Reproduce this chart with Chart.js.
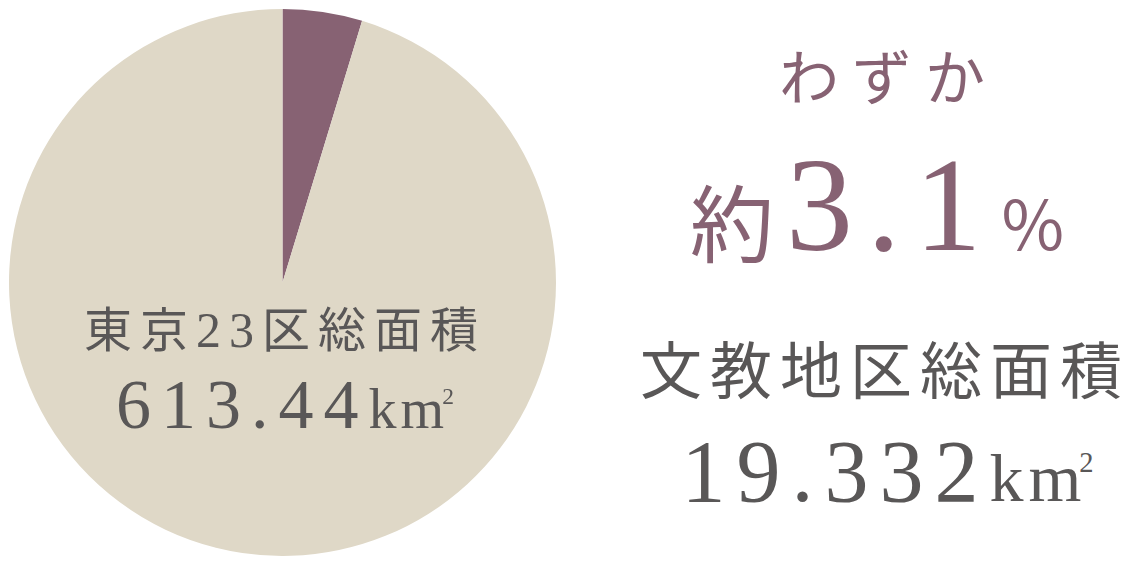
<!DOCTYPE html>
<html lang="ja">
<head>
<meta charset="utf-8">
<script src="https://cdn.jsdelivr.net/npm/chart.js@4"></script>
<style>
  html, body { margin:0; padding:0; background:#ffffff; }
  body { width:1124px; height:564px; position:relative; overflow:hidden;
         font-family:"Liberation Serif","Noto Sans CJK JP",serif; }
  #wrap { position:absolute; left:9px; top:9px; width:547px; height:547px; }
  .t { position:absolute; white-space:nowrap; transform:translateX(-50%); line-height:1; }
  .gray { color:#595757; }
  .mauve { color:#876273; }
  .cjk { font-family:"Noto Sans CJK JP",sans-serif; font-weight:400; }
  .sup { font-size:0.42em; vertical-align:1.0em; letter-spacing:0; margin-left:-2px; }
</style>
</head>
<body>
<div id="wrap"><canvas id="c"></canvas></div>

<div class="t gray cjk" style="left:281px; top:302px; font-size:48px; letter-spacing:8px; padding-left:8px;">東京<span style="font-family:'Liberation Serif'; font-size:50px;">23</span>区総面積</div>
<div class="t gray" style="left:280px; top:370px; font-size:70px; letter-spacing:10px; padding-left:10px;">613.44<span style="font-size:56px; letter-spacing:4px;">k<span style="letter-spacing:0">m</span><span class="sup">2</span></span></div>

<div class="t mauve cjk" style="left:882px; top:44px; font-size:60px; letter-spacing:13px; padding-left:13px;">わずか</div>
<div class="t mauve" style="left:877px; top:138px; font-size:134px; letter-spacing:14px;"><span class="cjk" style="font-size:84px; position:relative; top:6px; letter-spacing:12px;">約</span>3.1<span class="cjk" style="font-size:68px; margin-left:6px; letter-spacing:0;">%</span></div>
<div class="t gray cjk" style="left:881px; top:336px; font-size:62px; letter-spacing:8px; padding-left:8px;">文教地区総面積</div>
<div class="t gray" style="left:882px; top:428px; font-size:88px; letter-spacing:11px; padding-left:11px;">19.332<span style="font-size:68px; letter-spacing:5px;">k<span style="letter-spacing:0">m</span><span class="sup">2</span></span></div>

<script>
const categories = ['文教地区', 'その他の区域'];
const shareValues = [4.7, 95.3];
const sliceColors = ['#876273', '#dfd8c7'];

new Chart(document.getElementById('c'), {
  type: 'pie',
  data: {
    labels: categories,
    datasets: [{ data: shareValues, backgroundColor: sliceColors, borderWidth: 0, hoverOffset: 0 }]
  },
  options: {
    responsive: true,
    maintainAspectRatio: false,
    animation: false,
    rotation: 0,
    layout: { padding: 0 },
    plugins: { legend: { display: false }, tooltip: { enabled: false } },
    events: []
  }
});
</script>
</body>
</html>
